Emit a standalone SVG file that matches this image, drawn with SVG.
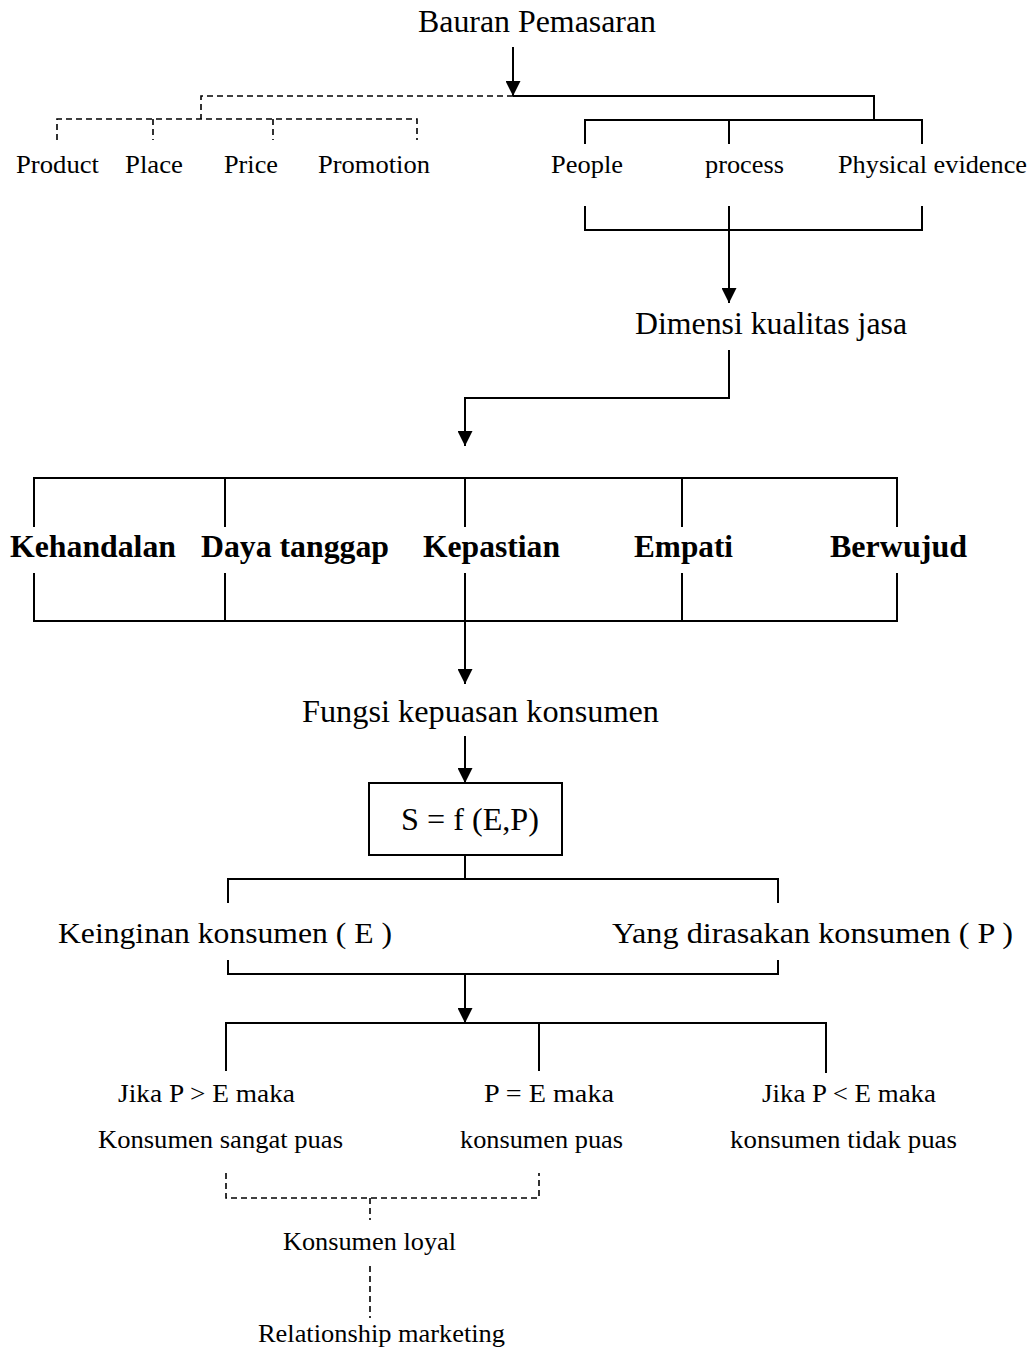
<svg xmlns="http://www.w3.org/2000/svg" width="1034" height="1348" viewBox="0 0 1034 1348" font-family="'Liberation Serif', 'Times New Roman', serif">
<style>
text{font-family:"Liberation Serif","Times New Roman",serif;fill:#000}
.l{font-size:32px}
.k{font-size:30px}
.m{font-size:25px}
.b{font-size:32px;font-weight:bold}
.s{font-size:25px}
.c{fill:none;stroke:#000;stroke-width:2}
.d{fill:none;stroke:#000;stroke-width:1.6;stroke-dasharray:6 4}
</style>
<defs>
<marker id="ah" viewBox="0 0 10 10" refX="10" refY="5" markerUnits="userSpaceOnUse" markerWidth="16" markerHeight="15" orient="auto">
<path d="M0,0 L10,5 L0,10 z" fill="#000"/>
</marker>
</defs>
<rect width="1034" height="1348" fill="#fff"/>

<g id="connectors">
<line class="c" x1="513" y1="47" x2="513" y2="96" marker-end="url(#ah)"/>
<path class="d" d="M513,96 H201 V119"/>
<path class="d" d="M57,140 V119 H417 V140 M153,119 V140 M273,119 V140"/>
<path class="c" d="M513,96 H874 V120"/>
<path class="c" d="M585,144 V120 H922 V144 M729,120 V144"/>
<path class="c" d="M585,206 V230 H922 V206 M729,206 V230"/>
<line class="c" x1="729" y1="230" x2="729" y2="303" marker-end="url(#ah)"/>
<path class="c" d="M729,350 V398 H465 V446" marker-end="url(#ah)"/>
<path class="c" d="M34,527 V478 H897 V527 M225,478 V527 M465,478 V527 M682,478 V527"/>
<path class="c" d="M34,573 V621 H897 V573 M225,573 V621 M465,573 V621 M682,573 V621"/>
<line class="c" x1="465" y1="621" x2="465" y2="684" marker-end="url(#ah)"/>
<line class="c" x1="465" y1="736" x2="465" y2="783" marker-end="url(#ah)"/>
<path class="c" d="M465,855 V879 M228,903 V879 H778 V903"/>
<path class="c" d="M228,960 V974 H778 V960"/>
<line class="c" x1="465" y1="974" x2="465" y2="1023" marker-end="url(#ah)"/>
<path class="c" d="M226,1071 V1023 H826 V1073 M539,1023 V1071"/>
<path class="d" d="M226,1173 V1198 H539 V1173 M370,1198 V1220"/>
<path class="d" d="M370,1266 V1318"/>
</g>

<g id="n-bauran"><text class="l" x="418" y="32" textLength="238" lengthAdjust="spacingAndGlyphs">Bauran Pemasaran</text></g>
<g id="n-product"><text class="m" x="16" y="173" textLength="83" lengthAdjust="spacingAndGlyphs">Product</text></g>
<g id="n-place"><text class="m" x="125" y="173" textLength="58" lengthAdjust="spacingAndGlyphs">Place</text></g>
<g id="n-price"><text class="m" x="224" y="173" textLength="54" lengthAdjust="spacingAndGlyphs">Price</text></g>
<g id="n-promotion"><text class="m" x="318" y="173" textLength="112" lengthAdjust="spacingAndGlyphs">Promotion</text></g>
<g id="n-people"><text class="m" x="551" y="173" textLength="72" lengthAdjust="spacingAndGlyphs">People</text></g>
<g id="n-process"><text class="m" x="705" y="173" textLength="79" lengthAdjust="spacingAndGlyphs">process</text></g>
<g id="n-physical"><text class="m" x="838" y="173" textLength="189" lengthAdjust="spacingAndGlyphs">Physical evidence</text></g>
<g id="n-dimensi"><text class="l" x="635" y="334" textLength="272" lengthAdjust="spacingAndGlyphs">Dimensi kualitas jasa</text></g>
<g id="n-kehandalan"><text class="b" x="10" y="557" textLength="166" lengthAdjust="spacingAndGlyphs">Kehandalan</text></g>
<g id="n-daya"><text class="b" x="201" y="557" textLength="188" lengthAdjust="spacingAndGlyphs">Daya tanggap</text></g>
<g id="n-kepastian"><text class="b" x="423" y="557" textLength="137" lengthAdjust="spacingAndGlyphs">Kepastian</text></g>
<g id="n-empati"><text class="b" x="634" y="557" textLength="99" lengthAdjust="spacingAndGlyphs">Empati</text></g>
<g id="n-berwujud"><text class="b" x="830" y="557" textLength="137" lengthAdjust="spacingAndGlyphs">Berwujud</text></g>
<g id="n-fungsi"><text class="l" x="302" y="722" textLength="357" lengthAdjust="spacingAndGlyphs">Fungsi kepuasan konsumen</text></g>
<g id="n-sfep"><rect x="369" y="783" width="193" height="72" fill="none" stroke="#000" stroke-width="2"/><text class="l" x="401" y="830" textLength="138" lengthAdjust="spacingAndGlyphs">S = f (E,P)</text></g>
<g id="n-keinginan"><text class="k" x="58" y="943" textLength="334" lengthAdjust="spacingAndGlyphs">Keinginan konsumen ( E )</text></g>
<g id="n-yang"><text class="k" x="612" y="943" textLength="401" lengthAdjust="spacingAndGlyphs">Yang dirasakan konsumen ( P )</text></g>
<g id="n-sangat"><text class="s" x="118" y="1102" textLength="177" lengthAdjust="spacingAndGlyphs">Jika P &gt; E  maka</text><text class="s" x="98" y="1148" textLength="245" lengthAdjust="spacingAndGlyphs">Konsumen sangat puas</text></g>
<g id="n-puas"><text class="s" x="484" y="1102" textLength="130" lengthAdjust="spacingAndGlyphs">P = E  maka</text><text class="s" x="460" y="1148" textLength="163" lengthAdjust="spacingAndGlyphs">konsumen puas</text></g>
<g id="n-tidak"><text class="s" x="762" y="1102" textLength="174" lengthAdjust="spacingAndGlyphs">Jika P &lt; E maka</text><text class="s" x="730" y="1148" textLength="227" lengthAdjust="spacingAndGlyphs">konsumen tidak puas</text></g>
<g id="n-loyal"><text class="s" x="283" y="1250" textLength="173" lengthAdjust="spacingAndGlyphs">Konsumen loyal</text></g>
<g id="n-relationship"><text class="s" x="258" y="1342" textLength="247" lengthAdjust="spacingAndGlyphs">Relationship marketing</text></g>
</svg>
